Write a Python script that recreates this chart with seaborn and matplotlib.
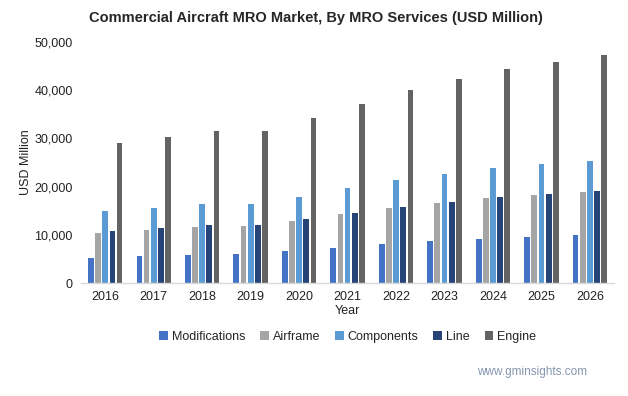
import pandas as pd
import seaborn as sns
import matplotlib.pyplot as plt
from matplotlib.ticker import FuncFormatter

# Data (USD Million)
years = ['2016', '2017', '2018', '2019', '2020', '2021', '2022', '2023', '2024', '2025', '2026']
modifications = [5250, 5660, 5870, 6080, 6700, 7320, 8150, 8780, 9190, 9610, 10020]
airframe = [10400, 11060, 11680, 11890, 12930, 14380, 15620, 16660, 17700, 18320, 18940]
components = [15000, 15600, 16450, 16450, 17900, 19770, 21430, 22680, 23920, 24750, 25370]
line = [10850, 11470, 12100, 12100, 13340, 14590, 15830, 16870, 17910, 18530, 19150]
engine = [29100, 30350, 31600, 31600, 34200, 37200, 40100, 42400, 44300, 45900, 47200]

services = ['Modifications', 'Airframe', 'Components', 'Line', 'Engine']
colors = ['#4472C4', '#A5A5A5', '#5B9BD5', '#264478', '#636363']

# long format for seaborn
rows = []
for name, vals in zip(services, [modifications, airframe, components, line, engine]):
    for y, v in zip(years, vals):
        rows.append({'Year': y, 'Service': name, 'Value': v})
df = pd.DataFrame(rows)

sns.set_style('white')
plt.rcParams['font.family'] = ['Liberation Sans', 'DejaVu Sans']

fig = plt.figure(figsize=(6.28, 3.96), dpi=100)
ax = fig.add_axes([0.129, 0.285, 0.849, 0.609])

sns.barplot(data=df, x='Year', y='Value', hue='Service', hue_order=services,
            palette=colors, width=0.74, gap=0.2, saturation=1, linewidth=0,
            ax=ax, legend=True)

ax.set_ylim(0, 50000)
ax.set_yticks(range(0, 50001, 10000))
ax.yaxis.set_major_formatter(FuncFormatter(lambda v, p: f'{int(v):,}'))
ax.tick_params(axis='both', labelsize=9, colors='#222222', length=0)
ax.tick_params(axis='y', pad=6)
ax.tick_params(axis='x', pad=6)

for s in ['top', 'right', 'left']:
    ax.spines[s].set_visible(False)
ax.spines['bottom'].set_color('#D9D9D9')
ax.spines['bottom'].set_linewidth(1)

ax.set_xlabel('Year', fontsize=9, color='#222222', labelpad=1)
ax.set_ylabel('USD Million', fontsize=9, color='#222222', labelpad=2)

fig.suptitle('Commercial Aircraft MRO Market, By MRO Services (USD Million)',
             x=0.503, y=0.972, fontsize=10.5, fontweight='bold')

ax.legend(loc='upper center', bbox_to_anchor=(0.5, -0.15), ncol=5, frameon=False,
          fontsize=9, handlelength=0.7, handleheight=0.7, handletextpad=0.3,
          columnspacing=1.2)

fig.text(0.935, 0.06, 'www.gminsights.com', ha='right', va='center',
         fontsize=8.5, color='#8496B0')

fig.savefig('out.png', dpi=100)
